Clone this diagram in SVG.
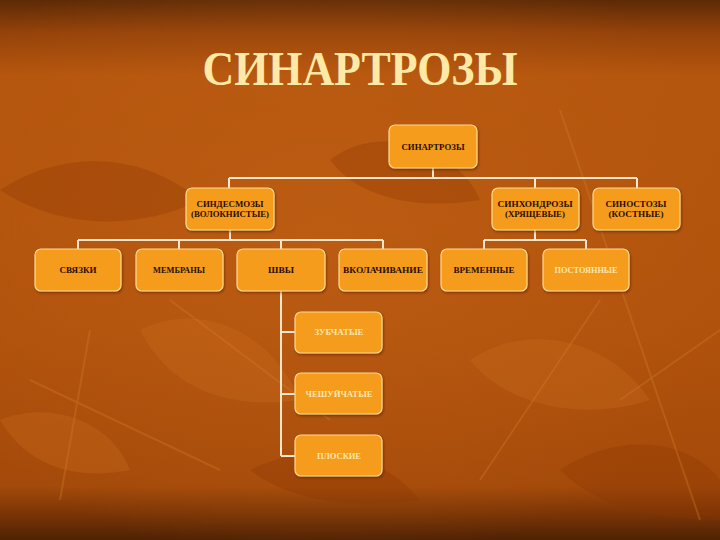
<svg xmlns="http://www.w3.org/2000/svg" width="720" height="540" viewBox="0 0 720 540">
<defs>
<linearGradient id="bg" x1="0" y1="0" x2="0" y2="1">
<stop offset="0" stop-color="#5c2a06"/>
<stop offset="0.06" stop-color="#94420a"/>
<stop offset="0.14" stop-color="#b5560e"/>
<stop offset="0.6" stop-color="#b0520c"/>
<stop offset="0.9" stop-color="#a44a0a"/>
<stop offset="0.95" stop-color="#7c3606"/>
<stop offset="1" stop-color="#4e2204"/>
</linearGradient>
<radialGradient id="glow" cx="0.45" cy="0.45" r="0.6">
<stop offset="0" stop-color="#c8661a" stop-opacity="0.45"/>
<stop offset="1" stop-color="#c8661a" stop-opacity="0"/>
</radialGradient>
<filter id="sh" x="-10%" y="-10%" width="120%" height="130%">
<feDropShadow dx="1" dy="1.5" stdDeviation="1.2" flood-color="#5a2200" flood-opacity="0.6"/>
</filter>
</defs>
<style>
.box{fill:#f59c1c;stroke:#ffd98e;stroke-width:1.2;filter:url(#sh)}
.t{font-family:"Liberation Serif","Times New Roman",serif;font-size:8.5px;font-weight:bold;fill:#2a0c00;text-anchor:middle}
.lt{fill:#ffe6ad}
.c{fill:none;stroke:#f6e7cc;stroke-width:2}
.leafL{fill:#c96a1e;opacity:0.35}
.leafD{fill:#8a3604;opacity:0.3}
.vein{fill:none;stroke:#d07a2a;stroke-width:2;opacity:0.35}
</style>
<rect width="720" height="540" fill="url(#bg)"/>
<rect width="720" height="540" fill="url(#glow)"/>
<g id="background-leaves">
<path class="leafD" d="M0 190 C60 150 140 150 200 200 C140 230 60 230 0 190Z"/>
<path class="leafL" d="M140 330 C200 300 270 330 300 400 C230 410 170 390 140 330Z"/>
<path class="leafD" d="M330 160 C380 120 460 150 480 200 C420 210 360 200 330 160Z"/>
<path class="leafL" d="M470 360 C530 320 610 340 650 400 C590 420 510 410 470 360Z"/>
<path class="leafD" d="M560 470 C620 430 690 440 720 480 L720 520 C660 520 600 510 560 470Z"/>
<path class="leafL" d="M0 420 C50 400 110 420 130 470 C80 480 30 470 0 420Z"/>
<path class="leafD" d="M250 470 C310 440 380 450 420 500 C350 510 290 500 250 470Z"/>
<path class="vein" d="M30 380 L220 470 M90 330 L60 500 M560 110 L700 520 M600 300 L480 480 M620 400 L720 330 M170 300 L330 420"/>
</g>
<text x="360" y="85" font-family="'Liberation Serif','Times New Roman',serif" font-size="48" font-weight="bold" fill="#ffe9a6" text-anchor="middle" textLength="315" lengthAdjust="spacingAndGlyphs">СИНАРТРОЗЫ</text>
<g id="connectors">
<path class="c" d="M433 168 V178 M229 178 H637 M229 178 V188 M535 178 V188 M637 178 V188"/>
<path class="c" d="M230 230 V240 M78 240 H383 M78 240 V249 M179 240 V249 M281 240 V249 M383 240 V249"/>
<path class="c" d="M535 230 V240 M484 240 H586 M484 240 V249 M586 240 V249"/>
<path class="c" d="M281 291 V456 M281 332 H296 M281 394 H296 M281 456 H296"/>
</g>
<g id="n-root"><rect class="box" x="389" y="125" width="88" height="43" rx="6"/><text class="t" x="433" y="150" textLength="63" lengthAdjust="spacingAndGlyphs">СИНАРТРОЗЫ</text></g>
<g id="n-syndesmoses"><rect class="box" x="186" y="188" width="88" height="42" rx="6"/><text class="t" x="230" y="207" textLength="67" lengthAdjust="spacingAndGlyphs">СИНДЕСМОЗЫ</text><text class="t" x="230" y="217" textLength="78" lengthAdjust="spacingAndGlyphs">(ВОЛОКНИСТЫЕ)</text></g>
<g id="n-synchondroses"><rect class="box" x="492" y="188" width="87" height="42" rx="6"/><text class="t" x="535" y="207" textLength="75" lengthAdjust="spacingAndGlyphs">СИНХОНДРОЗЫ</text><text class="t" x="535" y="217" textLength="60" lengthAdjust="spacingAndGlyphs">(ХРЯЩЕВЫЕ)</text></g>
<g id="n-synostoses"><rect class="box" x="593" y="188" width="87" height="42" rx="6"/><text class="t" x="636" y="207" textLength="61" lengthAdjust="spacingAndGlyphs">СИНОСТОЗЫ</text><text class="t" x="636" y="217" textLength="55" lengthAdjust="spacingAndGlyphs">(КОСТНЫЕ)</text></g>
<g id="n-ligaments"><rect class="box" x="35" y="249" width="86" height="42" rx="6"/><text class="t" x="78" y="273" textLength="37" lengthAdjust="spacingAndGlyphs">СВЯЗКИ</text></g>
<g id="n-membranes"><rect class="box" x="136" y="249" width="87" height="42" rx="6"/><text class="t" x="179" y="273" textLength="52" lengthAdjust="spacingAndGlyphs">МЕМБРАНЫ</text></g>
<g id="n-sutures"><rect class="box" x="237" y="249" width="88" height="42" rx="6"/><text class="t" x="281" y="273" textLength="26" lengthAdjust="spacingAndGlyphs">ШВЫ</text></g>
<g id="n-gomphosis"><rect class="box" x="339" y="249" width="88" height="42" rx="6"/><text class="t" x="383" y="273" textLength="80" lengthAdjust="spacingAndGlyphs">ВКОЛАЧИВАНИЕ</text></g>
<g id="n-temporary"><rect class="box" x="441" y="249" width="86" height="42" rx="6"/><text class="t" x="484" y="273" textLength="61" lengthAdjust="spacingAndGlyphs">ВРЕМЕННЫЕ</text></g>
<g id="n-permanent"><rect class="box" x="543" y="249" width="86" height="42" rx="6"/><text class="t lt" x="586" y="273" textLength="63" lengthAdjust="spacingAndGlyphs">ПОСТОЯННЫЕ</text></g>
<g id="n-serrate"><rect class="box" x="295" y="312" width="87" height="41" rx="6"/><text class="t lt" x="339" y="335" textLength="49" lengthAdjust="spacingAndGlyphs">ЗУБЧАТЫЕ</text></g>
<g id="n-squamous"><rect class="box" x="295" y="373" width="87" height="41" rx="6"/><text class="t lt" x="339" y="397" textLength="67" lengthAdjust="spacingAndGlyphs">ЧЕШУЙЧАТЫЕ</text></g>
<g id="n-plane"><rect class="box" x="295" y="435" width="87" height="41" rx="6"/><text class="t lt" x="339" y="459" textLength="44" lengthAdjust="spacingAndGlyphs">ПЛОСКИЕ</text></g>
</svg>
